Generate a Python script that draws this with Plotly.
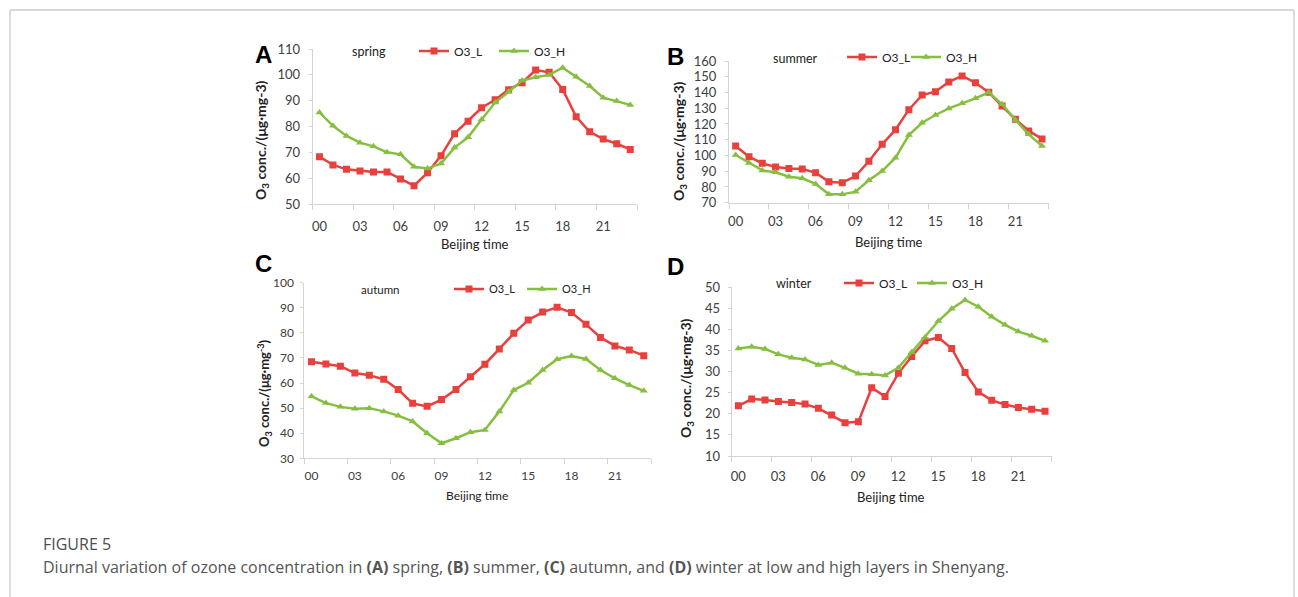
import plotly.graph_objects as go

W, H = 1298, 597

hours = list(range(24))
tick_hours = [0, 3, 6, 9, 12, 15, 18, 21]
tick_labels = ["00", "03", "06", "09", "12", "15", "18", "21"]

spring_L = [68.4, 65.2, 63.5, 62.9, 62.5, 62.5, 59.8, 57.2, 62.2, 68.8, 77.3, 82.1,
            87.3, 90.4, 94.3, 97.0, 101.9, 101.0, 94.4, 83.8, 78.0, 75.2, 73.4, 71.2]
spring_H = [85.5, 80.3, 76.4, 73.8, 72.4, 70.1, 69.3, 64.5, 63.8, 65.8, 71.9, 75.9,
            82.8, 89.3, 93.5, 97.8, 99.1, 100.0, 102.8, 99.3, 95.7, 91.2, 89.9, 88.4]
summer_L = [106.0, 99.2, 95.0, 92.7, 91.8, 91.4, 89.1, 83.3, 82.7, 86.9, 96.3, 107.1,
            116.4, 129.1, 138.4, 140.5, 146.7, 150.5, 146.2, 140.1, 131.4, 123.0, 115.6, 110.5]
summer_H = [100.3, 95.2, 90.5, 89.3, 86.5, 85.5, 81.9, 75.3, 75.3, 77.0, 84.2, 90.1,
            98.6, 113.0, 120.8, 125.7, 129.9, 133.1, 136.3, 140.1, 132.5, 122.6, 113.4, 106.0]
autumn_L = [68.5, 67.6, 66.7, 64.0, 63.1, 61.5, 57.4, 51.9, 50.7, 53.4, 57.4, 62.5,
            67.5, 73.6, 79.8, 85.1, 88.3, 90.2, 88.1, 83.4, 78.2, 74.8, 73.2, 70.9]
autumn_H = [54.7, 52.0, 50.5, 49.8, 50.0, 48.7, 47.0, 44.7, 40.0, 36.0, 38.0, 40.4,
            41.3, 48.7, 57.2, 60.1, 65.2, 69.5, 70.8, 69.6, 65.2, 61.9, 59.2, 56.9]
winter_L = [21.9, 23.5, 23.3, 22.9, 22.7, 22.3, 21.3, 19.7, 17.9, 18.1, 26.2, 24.1,
            29.6, 33.6, 37.3, 38.1, 35.5, 29.8, 25.2, 23.2, 22.2, 21.5, 21.1, 20.6]
winter_H = [35.5, 35.9, 35.4, 34.1, 33.3, 32.9, 31.6, 32.1, 30.9, 29.5, 29.4, 29.1,
            30.9, 34.6, 38.1, 42.0, 44.9, 47.0, 45.4, 43.0, 41.1, 39.5, 38.5, 37.3]

RED = "#e8403c"
GREEN = "#86bf3f"
AXIS = "#d4d4d4"
TXT = "#404040"
FONT = "Lato, Open Sans, sans-serif"


def px(x):
    return x / W


def py(y):
    return 1 - y / H


panels = [
    dict(letter="A", season="spring", L=spring_L, H=spring_H, x0=312.7, x1=637, yt=49, yb=204.3,
         yr=[50, 110], dt=10, ytitle="O<sub>3</sub> conc./(μg·mg-3)",
         lp=(263, 55), sp=(369, 52), lgL=(414, 51), lgH=(494, 51), xt=(475, 244), yp=(261, 140),
         fs=12, xs=10, ys=6, yts=14),
    dict(letter="B", season="summer", L=summer_L, H=summer_H, x0=729, x1=1048.7, yt=61, yb=202.7,
         yr=[70, 160], dt=10, ytitle="O<sub>3</sub> conc./(μg·mg-3)",
         lp=(675, 56), sp=(795, 58), lgL=(842, 57), lgH=(906, 57), xt=(889, 242), yp=(679, 141),
         fs=12, xs=7, ys=6, yts=14),
    dict(letter="C", season="autumn", L=autumn_L, H=autumn_H, x0=304.3, x1=651, yt=282.7, yb=458.3,
         yr=[30, 100], dt=10, ytitle="O<sub>3</sub> conc./(μg·mg<sup>-3</sup>)",
         lp=(263, 263), sp=(380, 289), lgL=(449, 289), lgH=(522, 289), xt=(477, 495), yp=(264, 393),
         fs=11, xs=6, ys=4, yts=13),
    dict(letter="D", season="winter", L=winter_L, H=winter_H, x0=731.7, x1=1051.7, yt=287.3, yb=456,
         yr=[10, 50], dt=5, ytitle="O<sub>3</sub> conc./(μg·mg-3)",
         lp=(675, 266), sp=(794, 283), lgL=(839, 283), lgH=(912, 283), xt=(891, 497), yp=(686, 378),
         fs=12, xs=8, ys=5, yts=14),
]

fig = go.Figure()
annotations = []
layout = {}


def ann(text, x, y, size, color="#222222", family=FONT, angle=0, xanchor="center"):
    return dict(text=text, x=px(x), y=py(y), xref="paper", yref="paper", xanchor=xanchor,
                yanchor="middle", showarrow=False, textangle=angle,
                font=dict(family=family, size=size, color=color))


def legend_box(pos, fs):
    return dict(
        orientation="h", x=px(pos[0]), y=py(pos[1]), xanchor="left", yanchor="middle",
        bgcolor="rgba(0,0,0,0)", borderwidth=0, itemwidth=30,
        font=dict(family=FONT, size=fs, color="#222222"),
    )


for i, p in enumerate(panels):
    n = "" if i == 0 else str(i + 1)
    xa, ya = "x" + n, "y" + n
    lgL = "legend" + n
    lgH = "legend" + str(i + 5)
    fig.add_trace(go.Scatter(
        x=hours, y=p["L"], name="O3_L", mode="lines+markers", xaxis=xa, yaxis=ya, legend=lgL,
        showlegend=True,
        line=dict(color=RED, width=2.5), marker=dict(symbol="square", size=7, color=RED)))
    fig.add_trace(go.Scatter(
        x=hours, y=p["H"], name="O3_H", mode="lines+markers", xaxis=xa, yaxis=ya, legend=lgH,
        showlegend=True,
        line=dict(color=GREEN, width=2.5), marker=dict(symbol="triangle-up", size=7, color=GREEN)))

    layout["xaxis" + n] = dict(
        domain=[px(p["x0"]), px(p["x1"])], anchor=ya, range=[-0.5, 23.5],
        tickmode="array", tickvals=tick_hours, ticktext=tick_labels, ticks="",
        ticklabelstandoff=p["xs"], automargin=False,
        showline=True, linecolor=AXIS, linewidth=1, showgrid=False, zeroline=False,
        tickfont=dict(family=FONT, size=p["fs"] + 1, color=TXT),
        minor=dict(tickmode="array", tickvals=[-0.5 + 3 * k for k in range(9)],
                   ticks="outside", ticklen=5, tickcolor=AXIS, tickwidth=1, showgrid=False),
    )
    layout["yaxis" + n] = dict(
        domain=[py(p["yb"]), py(p["yt"])], anchor=xa, range=p["yr"], dtick=p["dt"], tick0=p["yr"][0],
        showline=True, linecolor=AXIS, linewidth=1, showgrid=False, zeroline=False,
        ticks="outside", ticklen=3, tickcolor=AXIS, ticklabelstandoff=p["ys"], automargin=False,
        tickfont=dict(family=FONT, size=p["fs"] + 1, color=TXT),
    )
    layout[lgL] = legend_box(p["lgL"], p["fs"])
    layout[lgH] = legend_box(p["lgH"], p["fs"])
    annotations += [
        ann("<b>%s</b>" % p["letter"], p["lp"][0], p["lp"][1], 24, "black", "Liberation Sans, Arial"),
        ann(p["season"], p["sp"][0], p["sp"][1], p["fs"] + 0.5),
        ann("Beijing time", p["xt"][0], p["xt"][1], p["fs"] + 1),
        ann("<b>%s</b>" % p["ytitle"], p["yp"][0], p["yp"][1], p["yts"], angle=-90),
    ]

annotations += [
    ann("FIGURE 5", 41, 544, 16, "#4d4d4d", "Open Sans, sans-serif", xanchor="left"),
    ann("Diurnal variation of ozone concentration in <b>(A)</b> spring, <b>(B)</b> summer, "
        "<b>(C)</b> autumn, and <b>(D)</b> winter at low and high layers in Shenyang.",
        41, 567, 16, "#555555", "Open Sans, sans-serif", xanchor="left"),
]

shapes = [
    dict(type="line", xref="paper", yref="paper", x0=px(10), x1=px(10), y0=py(10), y1=py(597),
         line=dict(color="#d0d0d0", width=1.5)),
    dict(type="line", xref="paper", yref="paper", x0=px(10), x1=px(1294), y0=py(10), y1=py(10),
         line=dict(color="#d8d8d8", width=2)),
    dict(type="line", xref="paper", yref="paper", x0=px(1294), x1=px(1294), y0=py(10), y1=py(597),
         line=dict(color="#d0d0d0", width=1.5)),
]

fig.update_layout(
    width=W, height=H, margin=dict(l=0, r=0, t=0, b=0, pad=0, autoexpand=False),
    paper_bgcolor="white", plot_bgcolor="white", showlegend=True,
    annotations=annotations, shapes=shapes, **layout,
)

fig.write_html("out.html")
